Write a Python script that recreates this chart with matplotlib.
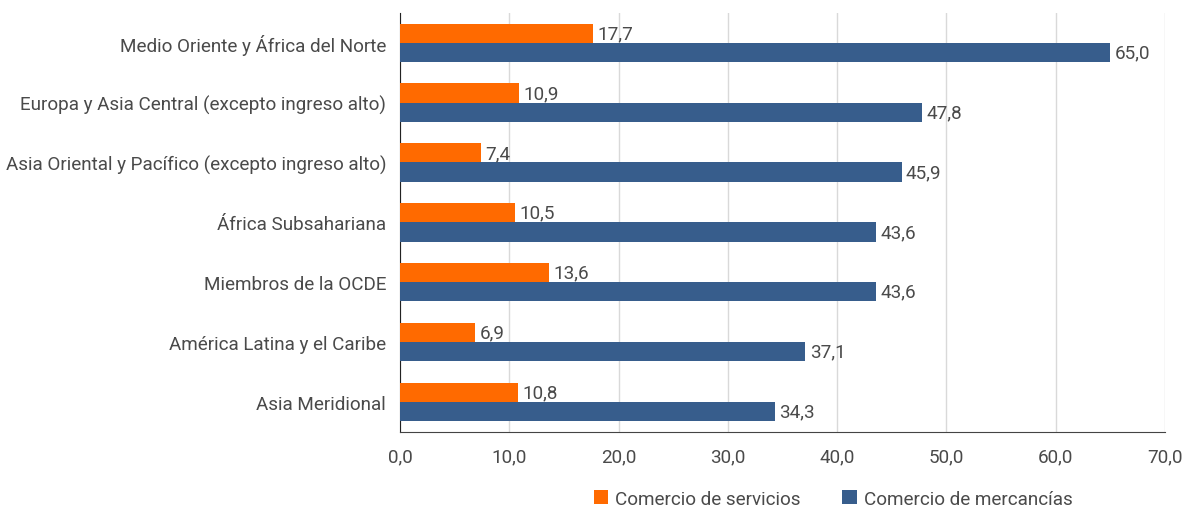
import numpy as np
import matplotlib.pyplot as plt

plt.rcParams['font.family'] = ['Roboto', 'DejaVu Sans']

regions = ["Medio Oriente y África del Norte",
           "Europa y Asia Central (excepto ingreso alto)",
           "Asia Oriental y Pacífico (excepto ingreso alto)",
           "África Subsahariana",
           "Miembros de la OCDE",
           "América Latina y el Caribe",
           "Asia Meridional"]
servicios = [17.7, 10.9, 7.4, 10.5, 13.6, 6.9, 10.8]
mercancias = [65.0, 47.8, 45.9, 43.6, 43.6, 37.1, 34.3]

col_serv = '#ff6a00'
col_merc = '#375d8c'
txt = '#4a4a4a'
fs = 13.6

fig = plt.figure(figsize=(11.82, 5.10), dpi=100)
ax = fig.add_axes([0.3384, 0.151, 0.6472, 0.822])

y = np.arange(len(regions))[::-1]
h = 0.32
b1 = ax.barh(y + h / 2, servicios, h, color=col_serv, label='Comercio de servicios', zorder=3)
b2 = ax.barh(y - h / 2, mercancias, h, color=col_merc, label='Comercio de mercancías', zorder=3)

for bars, vals in ((b1, servicios), (b2, mercancias)):
    for bar, v in zip(bars, vals):
        ax.text(v + 0.4, bar.get_y() + bar.get_height() / 2, f"{v:.1f}".replace('.', ','),
                va='center', ha='left', fontsize=fs, color=txt, zorder=4)

ax.set_xlim(0, 70)
ax.set_ylim(-0.5, 6.5)
ax.set_xticks(np.arange(0, 71, 10))
ax.set_xticklabels([f"{t:.1f}".replace('.', ',') for t in np.arange(0, 71, 10)])
ax.set_yticks(y)
ax.set_yticklabels(regions)
ax.tick_params(axis='both', length=0, labelsize=fs, colors=txt)
ax.tick_params(axis='x', pad=11)
ax.tick_params(axis='y', pad=10)
ax.grid(axis='x', color='#d9d9d9', linewidth=1, zorder=0)
for s in ['top', 'right']:
    ax.spines[s].set_visible(False)
ax.spines['left'].set_color('#222222')
ax.spines['bottom'].set_color('#444444')

fig.legend(handles=[b1, b2], loc='center', bbox_to_anchor=(0.705, 0.02), ncol=2,
           frameon=False, fontsize=fs, labelcolor=txt, handlelength=0.75, handleheight=0.75,
           handletextpad=0.4, columnspacing=2.2)

fig.savefig('out.png', dpi=100)
